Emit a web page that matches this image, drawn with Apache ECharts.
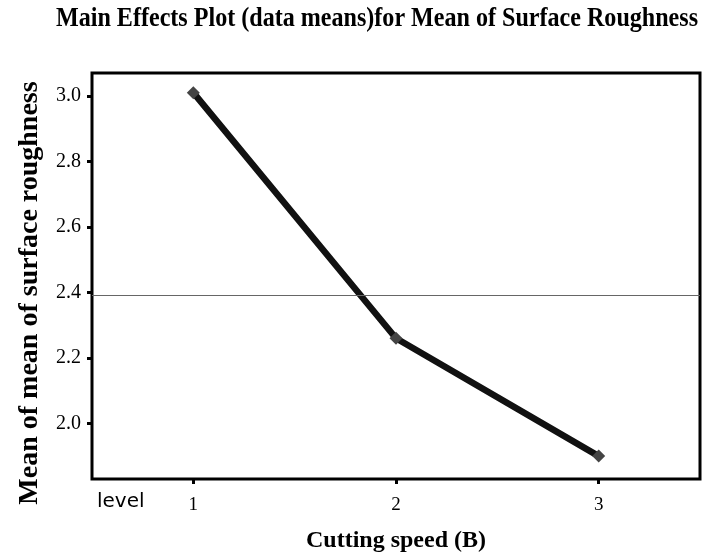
<!DOCTYPE html>
<html>
<head>
<meta charset="utf-8">
<script src="https://cdn.jsdelivr.net/npm/echarts@6/dist/echarts.min.js"></script>
<style>
  html, body { margin: 0; padding: 0; background: #fff; }
  #chart { width: 706px; height: 558px; }
</style>
</head>
<body>
<div id="chart"></div>
<script>
// levels of cutting speed (B) and the data means
const levels = [1, 2, 3]
const means = [3.01, 2.26, 1.90]
const grandMean = 2.39
const yTicks = [2.0, 2.2, 2.4, 2.6, 2.8, 3.0]

const chart = echarts.init(document.getElementById('chart'))

const serif = '"Liberation Serif", "DejaVu Serif", serif'

chart.setOption({
  backgroundColor: '#fff',
  animation: false,
  graphic: [
    {
      type: 'text',
      left: 56,
      top: 5,
      scaleX: 0.86,
      style: {
        text: 'Main Effects Plot (data means)for Mean of Surface Roughness',
        font: 'bold 28px ' + serif,
        fill: '#000'
      }
    },
    {
      // y axis title, drawn by hand so it can sit a little low like the original
      type: 'text',
      x: 30,
      y: 293,
      rotation: Math.PI / 2,
      style: {
        text: 'Mean of mean of surface roughness',
        font: 'bold 28px ' + serif,
        fill: '#000',
        align: 'center',
        verticalAlign: 'middle'
      }
    },
    {
      type: 'text',
      left: 97,
      top: 492,
      style: {
        text: 'level',
        font: '20px "DejaVu Sans", sans-serif',
        fill: '#000'
      }
    }
  ],
  grid: {
    left: 92,
    right: 6,
    top: 73,
    bottom: 76,
    show: true,
    borderColor: '#000',
    borderWidth: 3,
    backgroundColor: '#fff'
  },
  xAxis: {
    type: 'value',
    min: 0.5,
    max: 3.5,
    name: 'Cutting speed (B)',
    nameLocation: 'middle',
    nameGap: 50,
    nameTextStyle: { fontFamily: serif, fontWeight: 'bold', fontSize: 24, color: '#000' },
    axisLine: { show: false },
    splitLine: { show: false },
    axisTick: { show: true, length: 5, lineStyle: { color: '#000', width: 3 }, customValues: levels },
    axisLabel: { customValues: levels, fontFamily: serif, fontSize: 19, color: '#000', margin: 17 }
  },
  yAxis: {
    type: 'value',
    min: 1.83,
    max: 3.07,
    axisLine: { show: false },
    splitLine: { show: false },
    axisTick: { show: true, length: 5, lineStyle: { color: '#000', width: 3 }, customValues: yTicks },
    axisLabel: {
      customValues: yTicks,
      fontFamily: serif,
      fontSize: 20,
      color: '#000',
      margin: 11,
      formatter: v => v.toFixed(1)
    }
  },
  series: [
    {
      type: 'line',
      data: levels.map((l, i) => [l, means[i]]),
      lineStyle: { color: '#111', width: 6.5 },
      symbol: 'diamond',
      symbolSize: 13,
      itemStyle: { color: '#444' },
      z: 3,
      markLine: {
        silent: true,
        symbol: 'none',
        label: { show: false },
        lineStyle: { color: '#666', width: 1, type: 'solid' },
        data: [{ yAxis: grandMean }]
      }
    }
  ]
})
</script>
</body>
</html>
